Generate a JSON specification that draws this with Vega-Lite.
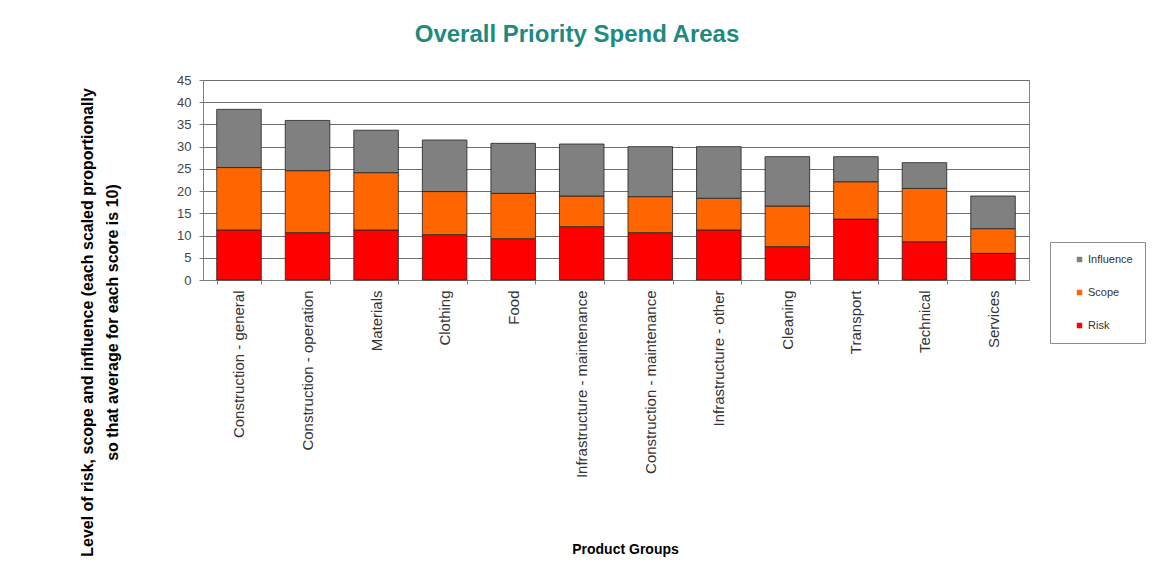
{
  "$schema": "https://vega.github.io/schema/vega-lite/v6.json",
  "description": "Overall Priority Spend Areas - stacked bars",
  "width": 826,
  "height": 200,
  "autosize": "none",
  "padding": {"left": 203, "top": 80, "right": 128, "bottom": 305},
  "background": "#FFFFFF",
  "title": {
    "text": "Overall Priority Spend Areas",
    "font": "Liberation Sans",
    "fontSize": 24,
    "fontWeight": "bold",
    "color": "#1F8A80",
    "anchor": "middle",
    "dx": -39,
    "offset": 27
  },
  "data": {
    "values": [
      {"Product": "Construction - general", "Risk": 11.25, "Scope": 14.05, "Influence": 13.1},
      {"Product": "Construction - operation", "Risk": 10.65, "Scope": 13.95, "Influence": 11.3},
      {"Product": "Materials", "Risk": 11.25, "Scope": 12.9, "Influence": 9.55},
      {"Product": "Clothing", "Risk": 10.2, "Scope": 9.7, "Influence": 11.6},
      {"Product": "Food", "Risk": 9.3, "Scope": 10.2, "Influence": 11.25},
      {"Product": "Infrastructure - maintenance", "Risk": 12.0, "Scope": 6.9, "Influence": 11.7},
      {"Product": "Construction - maintenance", "Risk": 10.65, "Scope": 8.1, "Influence": 11.25},
      {"Product": "Infrastructure - other", "Risk": 11.25, "Scope": 7.15, "Influence": 11.6},
      {"Product": "Cleaning", "Risk": 7.5, "Scope": 9.15, "Influence": 11.1},
      {"Product": "Transport", "Risk": 13.7, "Scope": 8.4, "Influence": 5.65},
      {"Product": "Technical", "Risk": 8.6, "Scope": 12.0, "Influence": 5.8},
      {"Product": "Services", "Risk": 6.0, "Scope": 5.55, "Influence": 7.35}
    ]
  },
  "transform": [
    {"fold": ["Risk", "Scope", "Influence"], "as": ["Component", "Value"]},
    {"window": [{"op": "row_number", "as": "stackIndex"}], "groupby": ["Product"]}
  ],
  "mark": {"type": "bar", "stroke": "#222222", "strokeWidth": 0.8},
  "encoding": {
    "x": {
      "field": "Product",
      "type": "nominal",
      "sort": null,
      "scale": {"paddingInner": 0.35, "paddingOuter": 0.2},
      "axis": {
        "title": "Product Groups",
        "titleFont": "Liberation Sans",
        "titleFontSize": 14,
        "titleFontWeight": "bold",
        "titleColor": "#000000",
        "titleX": 422,
        "titleY": 269,
        "titleBaseline": "middle",
        "titleAlign": "center",
        "labelAngle": 270,
        "labelAlign": "right",
        "labelBaseline": "middle",
        "labelFont": "Liberation Sans",
        "labelFontSize": 15,
        "labelColor": "#333333",
        "labelPadding": 6,
        "labelLimit": 300,
        "tickBand": "extent",
        "tickSize": 4,
        "tickColor": "#808080",
        "domainColor": "#808080",
        "grid": false
      }
    },
    "y": {
      "field": "Value",
      "type": "quantitative",
      "stack": "zero",
      "scale": {"domain": [0, 45], "nice": false},
      "axis": {
        "values": [0, 5, 10, 15, 20, 25, 30, 35, 40, 45],
        "title": ["Level of risk, scope and influence (each scaled proportionally", "so that average for each score is 10)"],
        "titleFont": "Liberation Sans",
        "titleFontSize": 16,
        "titleFontWeight": "bold",
        "titleColor": "#000000",
        "titleLineHeight": 25,
        "titleAngle": 270,
        "titleAlign": "center",
        "titleBaseline": "middle",
        "titleX": -116,
        "titleY": 242,
        "labelFont": "Liberation Sans",
        "labelFontSize": 13,
        "labelColor": "#444444",
        "labelPadding": 8,
        "tickSize": 4,
        "tickColor": "#808080",
        "domainColor": "#808080",
        "grid": true,
        "gridColor": "#6E6E6E",
        "gridWidth": 1
      }
    },
    "color": {
      "field": "Component",
      "type": "nominal",
      "scale": {
        "domain": ["Influence", "Scope", "Risk"],
        "range": ["#808080", "#FF6600", "#FF0000"]
      },
      "legend": {
        "title": null,
        "orient": "none",
        "legendX": 847,
        "legendY": 162,
        "symbolType": "square",
        "symbolSize": 30,
        "symbolStrokeWidth": 0,
        "symbolOffset": 12,
        "labelFont": "Liberation Sans",
        "labelFontSize": 11,
        "labelColor": "#333333",
        "labelOffset": 3,
        "rowPadding": 21,
        "padding": 12,
        "strokeColor": "#8C8C8C",
        "fillColor": "#FFFFFF"
      }
    },
    "order": {"field": "stackIndex", "type": "quantitative", "sort": "ascending"},
    "tooltip": [
      {"field": "Product", "type": "nominal"},
      {"field": "Component", "type": "nominal"},
      {"field": "Value", "type": "quantitative"}
    ]
  },
  "config": {
    "view": {"stroke": "#808080", "strokeWidth": 1}
  }
}
